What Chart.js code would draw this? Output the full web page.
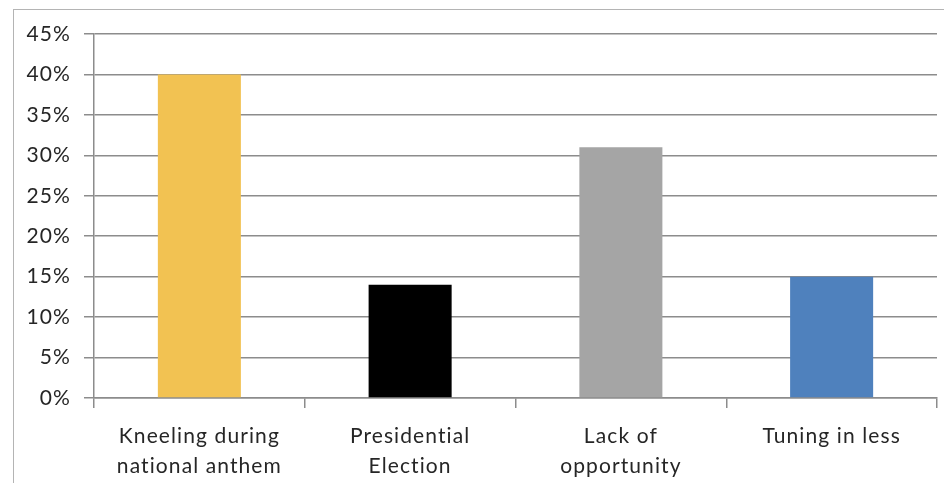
<!DOCTYPE html>
<html>
<head>
<meta charset="utf-8">
<script src="https://cdn.jsdelivr.net/npm/chart.js@4/dist/chart.umd.min.js"></script>
<style>
    html, body { margin: 0; padding: 0; background: #fff; overflow: hidden; }
    #frame {
        position: absolute; left: 13px; top: 9px; width: 960px; height: 500px;
        border: 1px solid #b4b4b4; box-sizing: border-box;
    }
    #wrap { position: absolute; left: 0; top: 0; width: 944px; height: 483px; }
</style>
</head>
<body>
<div id="frame"></div>
<div id="wrap"><canvas id="reasonsChart"></canvas></div>
<script>
// Reasons people gave, share of respondents
const categories = [
    ['Kneeling during', 'national anthem'],
    ['Presidential', 'Election'],
    ['Lack of', 'opportunity'],
    ['Tuning in less']
];
const shares = [0.40, 0.14, 0.31, 0.15];
const barColors = ['#F2C252', '#000000', '#A5A5A5', '#4F81BD'];
const yTicks = [0, 0.05, 0.10, 0.15, 0.20, 0.25, 0.30, 0.35, 0.40, 0.45];

const axisGray = '#8C8C8C';
const labelFont = { family: "Lato, 'Open Sans', sans-serif", size: 21 };

// the Excel text is set wide, so space the canvas letters out a bit
const letterSpacingPlugin = {
    id: 'letterSpacing',
    beforeUpdate: chart => { chart.ctx.letterSpacing = '1.1px'; },
    beforeDraw: chart => { chart.ctx.letterSpacing = '1.1px'; }
};

function initReasonsChart() {
    const ctx = document.getElementById('reasonsChart').getContext('2d');
    new Chart(ctx, {
        type: 'bar',
        data: {
            labels: categories,
            datasets: [{
                data: shares,
                backgroundColor: barColors,
                borderWidth: 0,
                categoryPercentage: 1,
                barPercentage: 0.394
            }]
        },
        plugins: [letterSpacingPlugin],
        options: {
            responsive: true,
            maintainAspectRatio: false,
            animation: false,
            layout: { padding: { top: 34, right: 7, bottom: 0, left: 0 } },
            plugins: {
                legend: { display: false },
                tooltip: { enabled: false }
            },
            scales: {
                x: {
                    grid: {
                        drawOnChartArea: false,
                        drawTicks: true,
                        tickLength: 10,
                        color: axisGray,
                        lineWidth: 1.5
                    },
                    border: { color: axisGray, width: 1.5 },
                    ticks: {
                        color: '#262626',
                        font: { ...labelFont, lineHeight: 1.43 },
                        padding: 13,
                        maxRotation: 0,
                        autoSkip: false
                    },
                    afterFit: scale => { scale.height = 85; }
                },
                y: {
                    min: 0,
                    max: 0.45,
                    afterBuildTicks: scale => {
                        scale.ticks = yTicks.map(v => ({ value: v }));
                    },
                    grid: {
                        color: axisGray,
                        lineWidth: 1.5,
                        tickLength: 10
                    },
                    border: { color: axisGray, width: 1.5 },
                    ticks: {
                        color: '#262626',
                        font: labelFont,
                        padding: 13,
                        callback: v => Math.round(v * 100) + '%'
                    },
                    afterFit: scale => { scale.width = 94; }
                }
            }
        }
    });
}

initReasonsChart();
</script>
</body>
</html>
